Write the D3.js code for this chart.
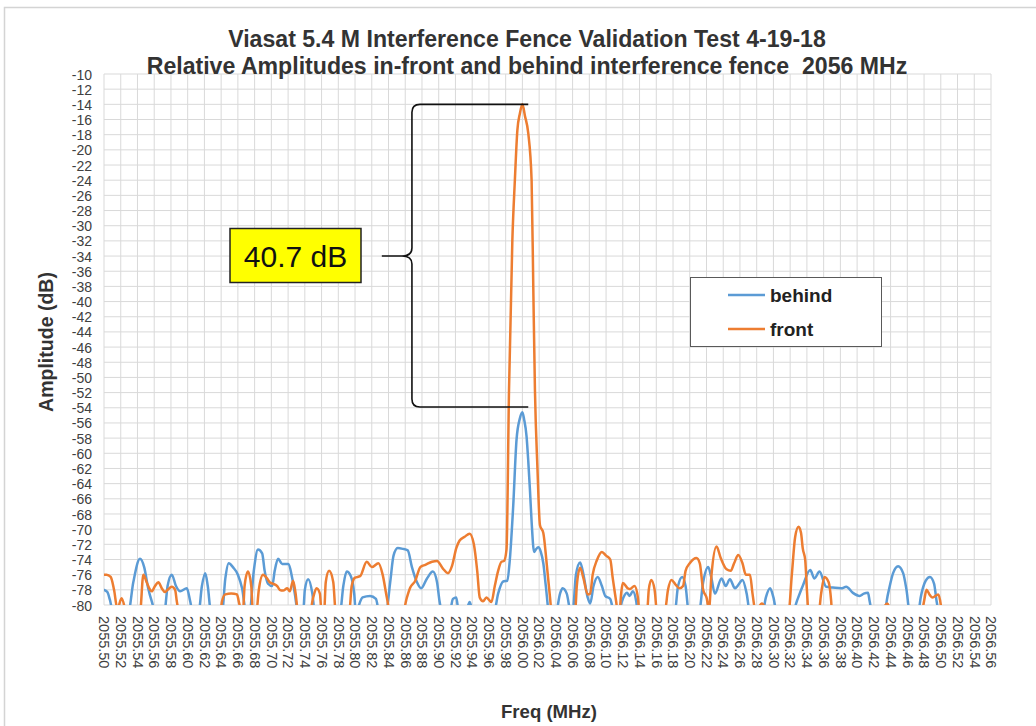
<!DOCTYPE html>
<html><head><meta charset="utf-8">
<script src="https://cdn.jsdelivr.net/npm/d3@7"></script>
<style>body{margin:0;background:#fff}svg{display:block}</style>
</head><body><svg id="c" width="1036" height="726"></svg>
<script>
// ---------------- DATA ----------------
const titleLines = ["Viasat 5.4 M Interference Fence Validation Test 4-19-18",
                    "Relative Amplitudes in-front and behind interference fence  2056 MHz"];
const xAxisTitle = "Freq (MHz)";
const yAxisTitle = "Amplitude (dB)";
const seriesNames = ["behind", "front"];
const seriesColors = ["#5B9BD5", "#ED7D31"];
const annotationText = "40.7 dB";

const yTicks = [-10,-12,-14,-16,-18,-20,-22,-24,-26,-28,-30,-32,-34,-36,-38,-40,-42,-44,-46,-48,
                -50,-52,-54,-56,-58,-60,-62,-64,-66,-68,-70,-72,-74,-76,-78,-80];
const xTickLabels = ["2055.50","2055.52","2055.54","2055.56","2055.58","2055.60","2055.62","2055.64","2055.66",
  "2055.68","2055.70","2055.72","2055.74","2055.76","2055.78","2055.80","2055.82","2055.84","2055.86","2055.88",
  "2055.90","2055.92","2055.94","2055.96","2055.98","2056.00","2056.02","2056.04","2056.06","2056.08","2056.10",
  "2056.12","2056.14","2056.16","2056.18","2056.20","2056.22","2056.24","2056.26","2056.28","2056.30","2056.32",
  "2056.34","2056.36","2056.38","2056.40","2056.42","2056.44","2056.46","2056.48","2056.50","2056.52","2056.54","2056.56"];

// behind (blue) – values below -80 fall off the chart floor
const behindFreq = [2055.500,2055.504,2055.507,2055.511,
 2055.529,2055.535,2055.543,2055.548,2055.553,2055.557,2055.562,
 2055.572,2055.576,2055.581,2055.586,2055.591,2055.599,2055.603,2055.606,
 2055.613,2055.617,2055.621,2055.624,2055.628,
 2055.641,2055.645,2055.649,2055.654,2055.660,2055.665,2055.670,
 2055.674,2055.679,2055.684,2055.689,2055.692,2055.696,2055.701,2055.704,2055.708,2055.713,2055.720,2055.725,2055.728,2055.732,
 2055.738,2055.740,2055.744,2055.749,2055.752,
 2055.782,2055.786,2055.790,2055.795,2055.799,2055.801,
 2055.803,2055.809,2055.818,2055.825,2055.829,
 2055.837,2055.842,2055.846,2055.851,2055.857,2055.863,2055.868,2055.874,2055.879,2055.886,2055.893,2055.898,2055.901,2055.904,
 2055.913,2055.917,2055.921,2055.924,
 2055.932,2055.937,2055.941,
 2055.966,2055.971,2055.977,2055.982,2055.985,2055.989,2055.993,2055.997,2056.000,2056.002,2056.005,2056.007,2056.009,2056.011,2056.014,2056.016,2056.019,2056.022,2056.025,2056.028,2056.032,
 2056.040,2056.045,2056.048,2056.053,2056.058,
 2056.060,2056.064,2056.069,2056.073,2056.078,2056.081,2056.085,2056.090,2056.095,2056.099,2056.105,2056.107,2056.109,
 2056.115,2056.119,2056.125,2056.128,2056.132,2056.136,2056.138,
 2056.182,2056.186,2056.191,2056.195,2056.199,
 2056.211,2056.216,2056.222,2056.226,2056.230,2056.238,2056.243,2056.248,2056.254,2056.257,2056.263,2056.268,2056.272,
 2056.287,2056.291,2056.296,2056.300,2056.304,
 2056.323,2056.328,2056.335,2056.344,2056.349,2056.355,2056.363,2056.371,2056.381,2056.387,2056.395,2056.403,2056.408,2056.413,2056.415,2056.418,
 2056.432,2056.437,2056.443,2056.449,2056.455,2056.459,2056.463,
 2056.473,2056.476,2056.482,2056.487,2056.492,2056.495,2056.498,
 2056.560];
const behindAmp = [-78.0,-78.3,-79.3,-81,
 -81,-77,-73.9,-75,-77.9,-79.5,-81,
 -81,-77.5,-76,-77.5,-78.2,-77.8,-79.5,-81,
 -81,-77.5,-75.8,-77.5,-81,
 -81,-76.5,-74.5,-75,-76,-77.8,-81,
 -81,-75.5,-72.7,-73.2,-75.5,-77.2,-77.5,-75.5,-73.9,-74.6,-74.6,-76.5,-78.5,-81,
 -81,-78,-76.6,-78.5,-81,
 -81,-77.5,-75.6,-76.2,-78.5,-81,
 -80.5,-79,-78.8,-79.2,-81,
 -81,-77,-73.5,-72.5,-72.6,-72.8,-75,-77,-77.8,-76.5,-75.6,-77,-79.5,-81,
 -81,-79.2,-79,-81,
 -81,-79.6,-81,
 -81,-78.5,-76.9,-76.8,-74,-67,-58.2,-55.4,-54.6,-55.5,-57.8,-61,-64.8,-69,-73,-72.7,-72.4,-73,-74.5,-77.5,-81,
 -81,-78.5,-77.8,-78.5,-81,
 -81,-76,-74.4,-76,-79,-79.8,-77.5,-76.3,-77.5,-78.8,-79.2,-80,-81,
 -81,-79.5,-78.4,-78.8,-78.2,-79.5,-81,
 -81,-77.5,-76.3,-77.5,-81,
 -81,-77,-75,-76.5,-78.5,-76.5,-77.5,-76.6,-77.8,-77.5,-76.7,-78.5,-81,
 -81,-79,-77.8,-79,-81,
 -81,-79.5,-77.5,-75.4,-76.5,-75.6,-77.6,-77.7,-77.8,-77.6,-78.4,-78.8,-78.5,-78.4,-79.5,-81,
 -81,-78.5,-75.8,-74.9,-75.8,-78,-81,
 -81,-79,-76.8,-76.3,-77.2,-79.5,-81,
 -81];

// front (orange)
const frontFreq = [2055.500,2055.503,2055.508,2055.512,2055.516,2055.521,2055.525,2055.526,
 2055.543,2055.547,2055.551,2055.555,2055.557,2055.561,2055.565,2055.569,2055.573,2055.576,2055.581,2055.585,2055.587,2055.590,
 2055.639,2055.641,2055.645,2055.652,2055.659,2055.661,2055.665,
 2055.666,2055.668,2055.672,2055.676,2055.678,
 2055.682,2055.685,2055.690,2055.695,2055.698,2055.702,2055.707,2055.710,2055.714,2055.719,2055.722,2055.726,2055.729,2055.732,
 2055.746,2055.750,2055.754,2055.758,2055.760,
 2055.763,2055.765,2055.769,2055.774,2055.777,
 2055.793,2055.796,2055.800,2055.806,2055.814,2055.820,2055.828,2055.833,2055.838,2055.842,
 2055.857,2055.862,2055.866,2055.872,2055.878,2055.884,2055.892,2055.898,2055.905,2055.911,
 2055.916,2055.921,2055.925,2055.931,2055.937,2055.942,2055.946,2055.949,2055.953,2055.957,
 2055.963,2055.967,2055.971,2055.975,2055.978,2055.981,2055.984,2055.988,2055.991,2055.994,
 2055.997,2056.000,2056.003,2056.007,2056.011,2056.013,2056.015,2056.018,2056.021,2056.025,
 2056.029,2056.033,2056.035,
 2056.063,2056.065,2056.069,2056.073,2056.078,2056.081,2056.084,2056.089,2056.095,2056.100,2056.105,2056.108,2056.112,2056.114,
 2056.116,2056.118,2056.120,2056.126,2056.128,2056.134,2056.138,2056.140,
 2056.149,2056.151,2056.154,2056.158,2056.161,
 2056.170,2056.174,2056.178,2056.183,2056.188,2056.192,2056.195,2056.200,2056.208,2056.212,
 2056.216,2056.220,2056.223,2056.226,2056.232,2056.237,2056.244,2056.249,2056.253,2056.258,
 2056.263,2056.267,2056.272,2056.275,2056.279,
 2056.280,2056.283,2056.286,2056.289,2056.290,
 2056.318,2056.322,2056.326,2056.330,2056.333,2056.335,2056.338,2056.340,2056.342,
 2056.354,2056.357,2056.361,2056.366,2056.369,2056.370,
 2056.431,2056.433,2056.436,2056.438,2056.439,
 2056.477,2056.480,2056.483,2056.487,2056.490,2056.497,2056.500,2056.501,
 2056.560];
const frontAmp = [-76,-76,-76.3,-78,-80.5,-79.1,-80.5,-81,
 -81,-76,-77,-78,-78.2,-77.5,-77,-77.8,-78.3,-78,-77.6,-78,-79.5,-81,
 -81,-79.5,-78.6,-78.5,-78.6,-79.5,-81,
 -81,-77.5,-75.6,-77.5,-81,
 -81,-78,-76,-76.5,-77,-77.2,-77.5,-78,-78.1,-77.8,-78.2,-76.8,-78.5,-81,
 -81,-79,-77.8,-78.5,-81,
 -81,-77,-75.5,-77,-81,
 -81,-77.5,-76.4,-76.2,-74.3,-75,-74.5,-76,-79,-81,
 -81,-79,-77.7,-76.8,-75,-74.7,-74.3,-74.2,-75.2,-75.8,
 -74.8,-72.5,-71.5,-71,-70.6,-72,-75.5,-79,-79.5,-79.0,
 -79.6,-77.5,-75.5,-74.3,-74.2,-72.7,-51.7,-31.9,-24,-17.4,
 -15.2,-14.0,-15.5,-17.8,-24,-38,-51.7,-62,-69.5,-70.5,
 -74.5,-79,-81,
 -81,-77.5,-75.1,-76.5,-78.6,-78.5,-76,-74.1,-73.0,-73.5,-74,-76.5,-79.5,-81,
 -81,-78.5,-77.1,-77.8,-77.9,-77.5,-79,-81,
 -81,-78,-76.7,-78,-81,
 -81,-78,-76.7,-77.3,-77.8,-77.5,-75.5,-74.5,-73.8,-74.5,
 -78,-79,-80.5,-76,-72.3,-73.8,-75.3,-75.5,-74.5,-73.4,
 -74.5,-76,-76,-78.5,-81,
 -81,-80.2,-79.8,-80.2,-81,
 -81,-76,-71,-69.7,-70.5,-72.5,-74.1,-78,-81,
 -81,-78.5,-76.3,-77,-79.5,-81,
 -81,-80.2,-79.8,-80.2,-81,
 -81,-79.5,-78.0,-78.7,-79.0,-78.6,-80,-81,
 -81];

// annotation brace, in data units (freq, dB)
const braceTopDb = -14.0, braceBottomDb = -53.9, braceTipDb = -34.0;
const braceSpineFreq = 2055.868, braceEndFreq = 2056.007, braceTipFreq = 2055.832;

// ---------------- CHART ----------------
const W = 1036, H = 726;
const svg = d3.select("#c");
const font = "'Liberation Sans', Arial, sans-serif";
const x = d3.scaleLinear().domain([2055.50, 2056.56]).range([104, 991]);
const y = d3.scaleLinear().domain([-80, -10]).range([605, 74]);
const gridColor = "#d9d9d9";

svg.append("rect").attr("width", W).attr("height", H).attr("fill", "#fff");
svg.append("rect").attr("x", 4.5).attr("y", 7.5).attr("width", W).attr("height", H)
   .attr("fill", "none").attr("stroke", "#d4d4d4").attr("stroke-width", 1.5);

// gridlines
const grid = svg.append("g");
grid.selectAll("line.v").data(xTickLabels).join("line").attr("class", "v")
  .attr("x1", d => x(+d)).attr("x2", d => x(+d)).attr("y1", y(-10)).attr("y2", y(-80))
  .attr("stroke", gridColor).attr("stroke-width", 1);
grid.selectAll("line.h").data(yTicks).join("line").attr("class", "h")
  .attr("x1", x(2055.50)).attr("x2", x(2056.56)).attr("y1", d => y(d)).attr("y2", d => y(d))
  .attr("stroke", gridColor).attr("stroke-width", 1);

// axes
const yAxis = svg.append("g").attr("transform", `translate(${x(2055.50)},0)`)
  .call(d3.axisLeft(y).tickValues(yTicks).tickSize(0).tickPadding(12).tickFormat(d => String(d)));
yAxis.select(".domain").remove();
yAxis.selectAll("text").attr("font-family", font).attr("font-size", 14).attr("fill", "#404040")
  .attr("dy", "0.36em");

const xAxis = svg.append("g").attr("transform", `translate(0,${y(-80)})`)
  .call(d3.axisBottom(x).tickValues(xTickLabels.map(Number)).tickSize(0)
       .tickFormat((d, i) => xTickLabels[i]));
xAxis.select(".domain").remove();
xAxis.selectAll("text").attr("font-family", font).attr("font-size", 14.5).attr("fill", "#404040")
  .attr("transform", "rotate(90)").attr("x", 11).attr("y", 0).attr("dy", "0.36em")
  .attr("text-anchor", "start");

// series
svg.append("clipPath").attr("id", "plotclip").append("rect")
  .attr("x", x(2055.50)).attr("y", y(-10) - 2).attr("width", x(2056.56) - x(2055.50))
  .attr("height", y(-80) - y(-10) + 2);
const line = d3.line().x(d => x(d[0])).y(d => y(d[1])).curve(d3.curveMonotoneX);
const series = [
  d3.zip(behindFreq, behindAmp),
  d3.zip(frontFreq, frontAmp)
];
svg.append("g").attr("clip-path", "url(#plotclip)")
  .selectAll("path").data(series).join("path")
  .attr("d", line).attr("fill", "none")
  .attr("stroke", (d, i) => seriesColors[i]).attr("stroke-width", 2.5)
  .attr("stroke-linejoin", "round").attr("stroke-linecap", "round");

// helper to fit text width
function fit(sel, target) {
  const w = sel.node().getComputedTextLength();
  const fs = parseFloat(sel.attr("font-size"));
  sel.attr("font-size", (fs * target / w).toFixed(2));
}

// titles
const t1 = svg.append("text").attr("x", 527).attr("y", 47).attr("text-anchor", "middle")
  .attr("font-family", font).attr("font-weight", "bold").attr("font-size", 19).attr("fill", "#333")
  .style("white-space", "pre").text(titleLines[0]);
fit(t1, 598);
const t2 = svg.append("text").attr("x", 527).attr("y", 74).attr("text-anchor", "middle")
  .attr("font-family", font).attr("font-weight", "bold").attr("font-size", 19).attr("fill", "#333")
  .style("white-space", "pre").text(titleLines[1]);
fit(t2, 761);

// axis titles
const yt = svg.append("text").attr("transform", "translate(53,342) rotate(-90)")
  .attr("text-anchor", "middle").attr("font-family", font).attr("font-weight", "bold")
  .attr("font-size", 17).attr("fill", "#333").text(yAxisTitle);
fit(yt, 140);
const xt = svg.append("text").attr("x", 549).attr("y", 718).attr("text-anchor", "middle")
  .attr("font-family", font).attr("font-weight", "bold").attr("font-size", 17).attr("fill", "#333")
  .text(xAxisTitle);
fit(xt, 96);

// legend
const lg = svg.append("g");
lg.append("rect").attr("x", 690.5).attr("y", 277.5).attr("width", 191).attr("height", 69)
  .attr("fill", "#fff").attr("stroke", "#595959").attr("stroke-width", 1);
seriesNames.forEach((n, i) => {
  const yy = 295 + i * 34;
  lg.append("line").attr("x1", 728).attr("x2", 765).attr("y1", yy).attr("y2", yy)
    .attr("stroke", seriesColors[i]).attr("stroke-width", 2.5);
  lg.append("text").attr("x", 770).attr("y", yy).attr("dy", "0.35em")
    .attr("font-family", font).attr("font-weight", "bold").attr("font-size", 19).attr("fill", "#222")
    .text(n);
});

// brace annotation
const bx = x(braceSpineFreq), bEnd = x(braceEndFreq), tipX = x(braceTipFreq);
const bTop = y(braceTopDb), bBot = y(braceBottomDb), tipY = y(braceTipDb);
const r = 8;
const bracePath = `M${bEnd},${bTop} L${bx + r},${bTop} Q${bx},${bTop} ${bx},${bTop + r}
  L${bx},${tipY - 8} Q${bx},${tipY} ${bx - 10},${tipY} L${tipX},${tipY}
  M${bx - 10},${tipY} Q${bx},${tipY} ${bx},${tipY + 8}
  L${bx},${bBot - r} Q${bx},${bBot} ${bx + r},${bBot} L${bEnd},${bBot}`;
svg.append("path").attr("d", bracePath).attr("fill", "none").attr("stroke", "#111")
  .attr("stroke-width", 1.6);

// value box
svg.append("rect").attr("x", 230).attr("y", 228.5).attr("width", 131).attr("height", 54)
  .attr("fill", "#ffff00").attr("stroke", "#222").attr("stroke-width", 1.5);
svg.append("text").attr("x", 295.5).attr("y", 266.5).attr("text-anchor", "middle")
  .attr("font-family", font).attr("font-size", 30).attr("fill", "#111").text(annotationText);
</script></body></html>
